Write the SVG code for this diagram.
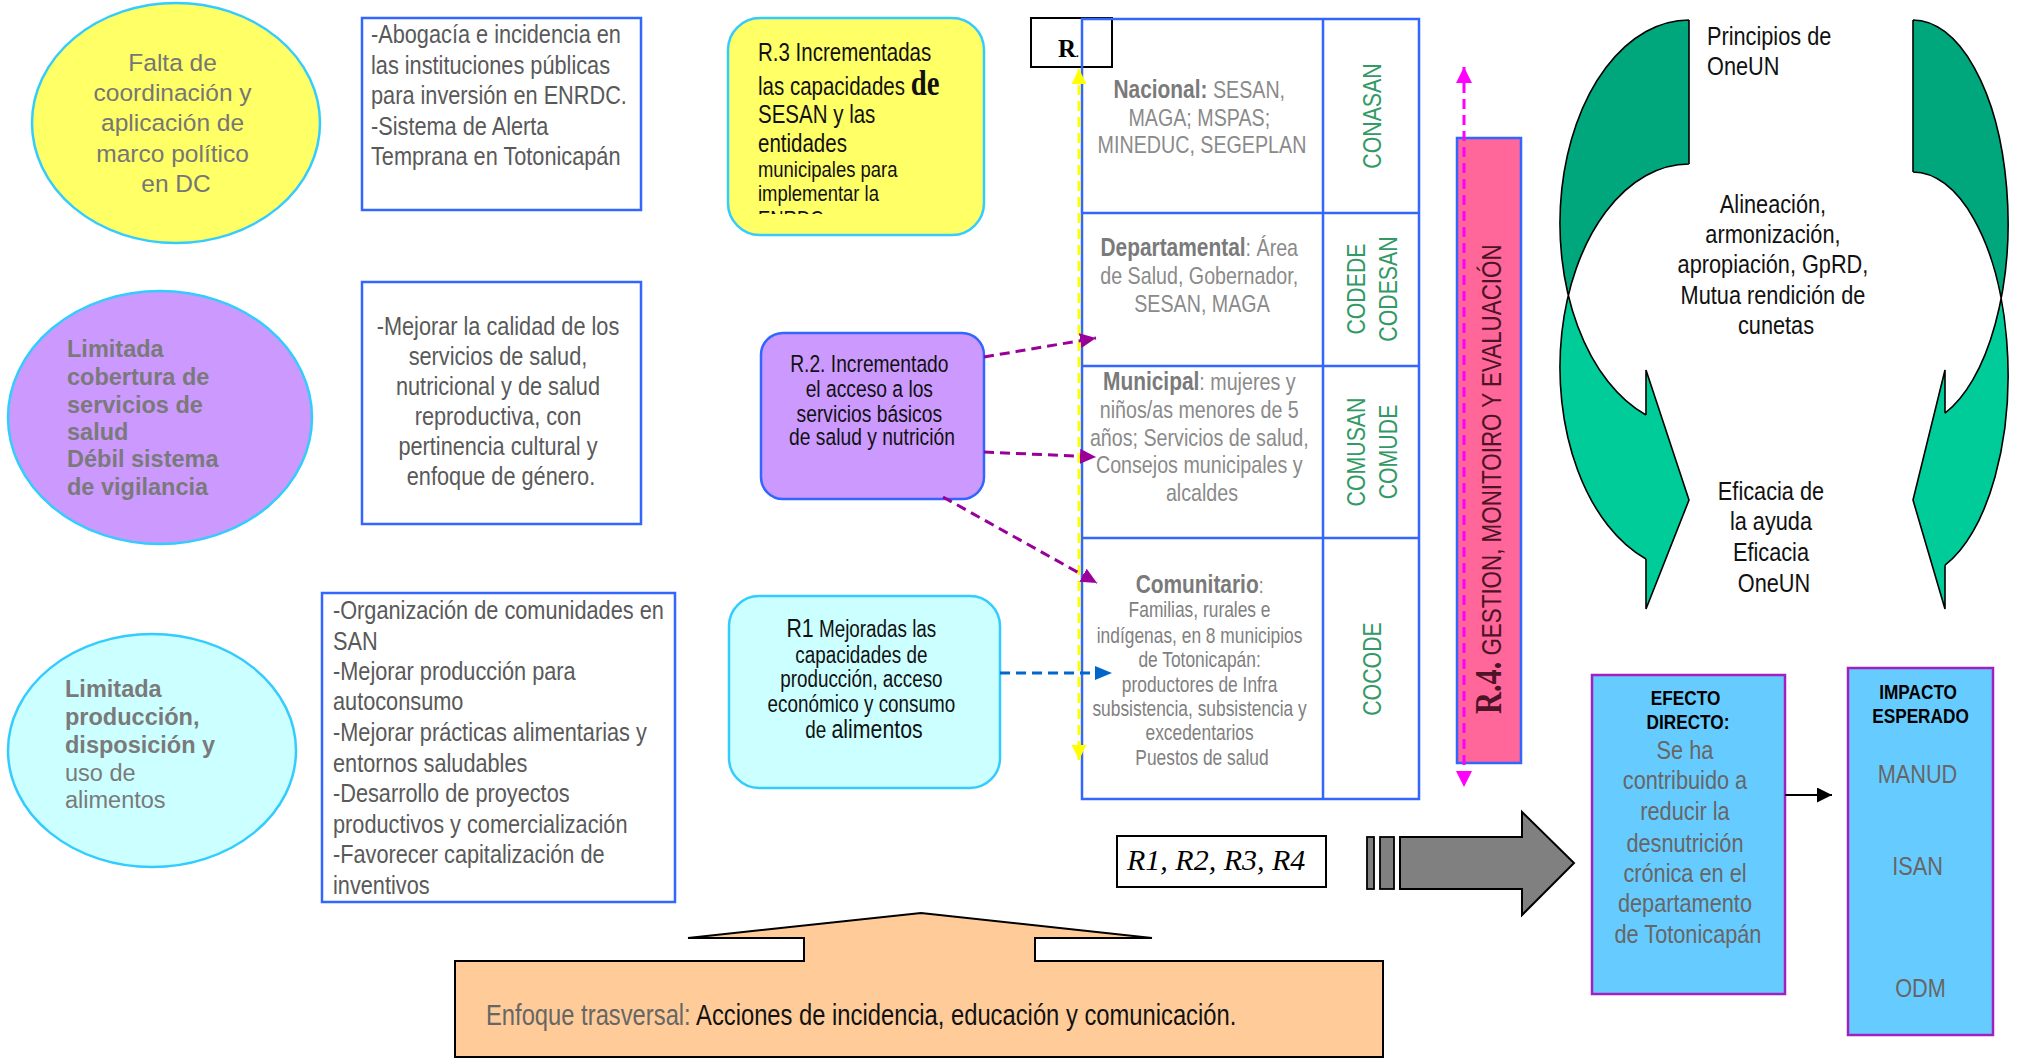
<svg xmlns="http://www.w3.org/2000/svg" width="2022" height="1064" viewBox="0 0 2022 1064">
<defs>
<style>
.n{font-family:"Liberation Sans",Arial,sans-serif}
.s{font-family:"Liberation Sans",Arial,sans-serif}
.sf{font-family:"Liberation Serif","Times New Roman",serif}
.box{fill:#fff;stroke:#3366ff;stroke-width:2.5}
.ell{stroke:#33ccff;stroke-width:2.5}
.tb{fill:none;stroke:#3366ff;stroke-width:2.5}
.bt{font-size:26.5px;fill:#595959}
.lab{font-weight:bold;fill:#7a7a7a}
.reg{fill:#8a8a8a}
.grn{font-size:26px;fill:#339966}
.blk{fill:#111}
.c{text-anchor:middle}
.dash{fill:none;stroke-width:3;stroke-dasharray:10 6}
.gd{fill:#00a67c}
.gl{fill:#00cc99}
.gs{fill:none;stroke:#000;stroke-width:1.6}
</style>
<marker id="mp" markerUnits="userSpaceOnUse" markerWidth="16" markerHeight="15" refX="16" refY="7.5" orient="auto"><path d="M0,0 L16,7.5 L0,15 Z" fill="#990099"/></marker>
<marker id="mb" markerUnits="userSpaceOnUse" markerWidth="17" markerHeight="14" refX="17" refY="7" orient="auto"><path d="M0,0 L17,7 L0,14 Z" fill="#0066cc"/></marker>
<marker id="my" markerUnits="userSpaceOnUse" markerWidth="15" markerHeight="15" refX="15" refY="7.5" orient="auto-start-reverse"><path d="M0,0 L15,7.5 L0,15 Z" fill="#ffff00"/></marker>
<marker id="mm" markerUnits="userSpaceOnUse" markerWidth="16" markerHeight="16" refX="16" refY="8" orient="auto-start-reverse"><path d="M0,0 L16,8 L0,16 Z" fill="#ff00ff"/></marker>
<marker id="mk" markerUnits="userSpaceOnUse" markerWidth="15" markerHeight="15" refX="15" refY="7.5" orient="auto"><path d="M0,0 L15,7.5 L0,15 Z" fill="#000"/></marker>
<clipPath id="r3clip"><rect x="728" y="18" width="256" height="196"/></clipPath>
</defs>
<rect width="2022" height="1064" fill="#fff"/>

<g id="problema-coordinacion">
<ellipse class="ell" cx="176" cy="123" rx="144" ry="120" fill="#ffff66"/>
<text class="s c" font-size="24.5" fill="#767676">
<tspan x="176" y="71">Falta de</tspan>
<tspan x="176" y="101">coordinación y</tspan>
<tspan x="176" y="131">aplicación de</tspan>
<tspan x="176" y="162">marco político</tspan>
<tspan x="176" y="192">en DC</tspan>
</text>
</g>

<g id="problema-cobertura">
<ellipse class="ell" cx="160" cy="417.5" rx="152" ry="126.5" fill="#cc99ff"/>
<text class="s" font-size="23.5" font-weight="bold" fill="#7a7a7a">
<tspan x="67" y="357">Limitada</tspan>
<tspan x="67" y="385">cobertura de</tspan>
<tspan x="67" y="413">servicios de</tspan>
<tspan x="67" y="440">salud</tspan>
<tspan x="67" y="467">Débil sistema</tspan>
<tspan x="67" y="495">de vigilancia</tspan>
</text>
</g>

<g id="problema-produccion">
<ellipse class="ell" cx="152" cy="750.5" rx="144" ry="116.5" fill="#ccffff"/>
<text class="s" font-size="23.5" fill="#7a7a7a">
<tspan x="65" y="697" font-weight="bold">Limitada</tspan>
<tspan x="65" y="725" font-weight="bold">producción,</tspan>
<tspan x="65" y="753" font-weight="bold">disposición y</tspan>
<tspan x="65" y="781">uso de</tspan>
<tspan x="65" y="808">alimentos</tspan>
</text>
</g>

<g id="acciones-1">
<rect class="box" x="362" y="18" width="279" height="192"/>
<text class="n bt" transform="matrix(0.82,0,0,1,66.78,0)">
<tspan x="371" y="43">-Abogacía e incidencia en</tspan>
<tspan x="371" y="74">las instituciones públicas</tspan>
<tspan x="371" y="104">para inversión en ENRDC.</tspan>
<tspan x="371" y="135">-Sistema de Alerta</tspan>
<tspan x="371" y="165">Temprana en Totonicapán</tspan>
</text>
</g>

<g id="acciones-2">
<rect class="box" x="362" y="282" width="279" height="242"/>
<text class="n bt c" transform="matrix(0.82,0,0,1,90.18,0)">
<tspan x="501" y="335">-Mejorar la calidad de los</tspan>
<tspan x="501" y="365">servicios de salud,</tspan>
<tspan x="501" y="395">nutricional y de salud</tspan>
<tspan x="501" y="425">reproductiva, con</tspan>
<tspan x="501" y="455">pertinencia cultural y</tspan>
<tspan x="501" y="485">enfoque de género.</tspan>
</text>
</g>

<g id="acciones-3">
<rect class="box" x="322" y="593" width="353" height="309"/>
<text class="n bt" transform="matrix(0.82,0,0,1,59.94,0)">
<tspan x="333" y="619">-Organización de comunidades en</tspan>
<tspan x="333" y="650">SAN</tspan>
<tspan x="333" y="680">-Mejorar producción para</tspan>
<tspan x="333" y="710">autoconsumo</tspan>
<tspan x="333" y="741">-Mejorar prácticas alimentarias y</tspan>
<tspan x="333" y="772">entornos saludables</tspan>
<tspan x="333" y="802">-Desarrollo de proyectos</tspan>
<tspan x="333" y="833">productivos y comercialización</tspan>
<tspan x="333" y="863">-Favorecer capitalización de</tspan>
<tspan x="333" y="894">inventivos</tspan>
</text>
</g>

<g id="resultado-3">
<rect x="728" y="18" width="256" height="217" rx="32" fill="#ffff66" stroke="#33ccff" stroke-width="2.5"/>
<g clip-path="url(#r3clip)">
<text class="n blk" font-size="25" transform="matrix(0.82,0,0,1,136.44,0)">
<tspan x="758" y="61">R.3 Incrementadas</tspan>
<tspan x="758" y="95">las capacidades <tspan class="sf" font-weight="bold" font-size="35">de</tspan></tspan>
<tspan x="758" y="123">SESAN y las</tspan>
<tspan x="758" y="152">entidades</tspan>
<tspan x="758" y="177" font-size="22.5">municipales para</tspan>
<tspan x="758" y="201" font-size="22.5">implementar la</tspan>
<tspan x="758" y="226" font-size="22.5">ENRDC</tspan>
</text>
</g>
</g>

<g id="resultado-2">
<rect x="761" y="333" width="223" height="166" rx="22" fill="#cc99ff" stroke="#3366ff" stroke-width="2.5"/>
<text class="n blk c" font-size="23.5" transform="matrix(0.82,0,0,1,156.96,0)">
<tspan x="872" y="372">R.2. Incrementado</tspan>
<tspan x="872" y="397">el acceso a los</tspan>
<tspan x="872" y="422">servicios básicos</tspan>
<tspan x="872" y="445">de salud y nutrición</tspan>
</text>
</g>

<g id="resultado-1">
<rect x="729" y="596" width="271" height="192" rx="30" fill="#ccffff" stroke="#33ccff" stroke-width="2.5"/>
<text class="n blk c" font-size="23" transform="matrix(0.82,0,0,1,155.52,0)">
<tspan x="864" y="637"><tspan font-size="26">R1</tspan> Mejoradas las</tspan>
<tspan x="864" y="663">capacidades de</tspan>
<tspan x="864" y="687">producción, acceso</tspan>
<tspan x="864" y="712">económico y consumo</tspan>
<tspan x="864" y="738">de <tspan font-size="26">alimentos</tspan></tspan>
</text>
</g>

<g id="etiqueta-r">
<rect x="1031" y="18" width="81" height="49" fill="#fff" stroke="#000" stroke-width="2"/>
<text class="sf" x="1058" y="57" font-size="25" font-weight="bold" fill="#000">R<tspan font-size="11">.</tspan></text>
</g>

<g id="niveles">
<rect class="tb" x="1082" y="19" width="337" height="780"/>
<path class="tb" d="M1323,19 V799 M1082,213 H1419 M1082,366 H1419 M1082,538 H1419"/>
<g transform="matrix(0.82,0,0,1,216.36,0)">
<text class="n c" font-size="24">
<tspan x="1202" y="98"><tspan class="lab" font-size="25.5">Nacional:</tspan><tspan class="reg"> SESAN,</tspan></tspan>
<tspan class="reg" x="1202" y="126">MAGA; MSPAS;</tspan>
<tspan class="reg" x="1202" y="153">MINEDUC, SEGEPLAN</tspan>
</text>
<text class="n c" font-size="24">
<tspan x="1202" y="256"><tspan class="lab" font-size="25.5">Departamental</tspan><tspan class="reg">: Área</tspan></tspan>
<tspan class="reg" x="1202" y="284">de Salud, Gobernador,</tspan>
<tspan class="reg" x="1202" y="312">SESAN, MAGA</tspan>
</text>
<text class="n c" font-size="24">
<tspan x="1202" y="390"><tspan class="lab" font-size="25.5">Municipal</tspan><tspan class="reg">: mujeres y</tspan></tspan>
<tspan class="reg" x="1202" y="418">niños/as menores de 5</tspan>
<tspan class="reg" x="1202" y="446">años; Servicios de salud,</tspan>
<tspan class="reg" x="1202" y="473">Consejos municipales y</tspan>
<tspan class="reg" x="1202" y="501">alcaldes</tspan>
</text>
<text class="n c" font-size="21.2" fill="#808080">
<tspan x="1202" y="593"><tspan class="lab" font-size="25.5">Comunitario</tspan>:</tspan>
<tspan x="1202" y="617">Familias, rurales e</tspan>
<tspan x="1202" y="643">indígenas, en 8 municipios</tspan>
<tspan x="1202" y="667">de Totonicapán:</tspan>
<tspan x="1202" y="692">productores de Infra</tspan>
<tspan x="1202" y="716">subsistencia, subsistencia y</tspan>
<tspan x="1202" y="740">excedentarios</tspan>
<tspan x="1202" y="765">Puestos de salud</tspan>
</text>
</g>
<text class="n grn c" transform="translate(1381,116) rotate(-90) scale(0.82,1)">CONASAN</text>
<text class="n grn c" transform="translate(1365,289) rotate(-90) scale(0.82,1)">CODEDE</text>
<text class="n grn c" transform="translate(1397,289) rotate(-90) scale(0.82,1)">CODESAN</text>
<text class="n grn c" transform="translate(1365,452) rotate(-90) scale(0.82,1)">COMUSAN</text>
<text class="n grn c" transform="translate(1397,452) rotate(-90) scale(0.82,1)">COMUDE</text>
<text class="n grn c" transform="translate(1381,669) rotate(-90) scale(0.82,1)">COCODE</text>
</g>

<g id="resultado-4">
<rect x="1457" y="138" width="64" height="625" fill="#ff6699" stroke="#3366ff" stroke-width="2.5"/>
<text transform="translate(1501,714) rotate(-90) scale(0.82,1)" fill="#4d1326"><tspan class="sf" font-size="37" font-weight="bold">R.4.</tspan><tspan class="n" font-size="27.3"> GESTION, MONITOIRO Y EVALUACIÓN</tspan></text>
</g>

<g id="principios-oneun">
<path class="gd" d="M1689,20 A129,203.3 0 0 0 1568.4,295.3 A129,203.3 0 0 1 1689,164 Z"/>
<path class="gl" d="M1568.4,295.3 A129,203.3 0 0 0 1646,415 L1646,370 L1689,500 L1646,609 L1646,559 A129,203.3 0 0 1 1568.4,295.3 Z"/>
<path class="gs" d="M1689,20 A129,203.3 0 0 0 1646,415 M1689,164 A129,203.3 0 0 0 1646,559 M1689,20 V164 M1646,415 V370 L1689,500 L1646,609 V559"/>
<path class="gd" d="M1913,20 A95,202.5 0 0 1 2001.1,298.5 A95,202.5 0 0 0 1913,172 Z"/>
<path class="gl" d="M2001.1,298.5 A95,202.5 0 0 1 1945,413.2 L1945,370 L1913,500 L1945,609 L1945,565.2 A95,202.5 0 0 0 2001.1,298.5 Z"/>
<path class="gs" d="M1913,20 A95,202.5 0 0 1 1945,413.2 M1913,172 A95,202.5 0 0 1 1945,565.2 M1913,20 V172 M1945,413.2 V370 L1913,500 L1945,609 V565.2"/>
<text class="n blk" font-size="26.5" transform="matrix(0.82,0,0,1,307.26,0)">
<tspan x="1707" y="45">Principios de</tspan>
<tspan x="1707" y="75">OneUN</tspan>
</text>
<text class="n blk c" font-size="26.5" transform="matrix(0.82,0,0,1,319.68,0)">
<tspan x="1776" y="213">Alineación,</tspan>
<tspan x="1776" y="243">armonización,</tspan>
<tspan x="1776" y="273">apropiación, GpRD,</tspan>
<tspan x="1776" y="304">Mutua rendición de</tspan>
<tspan x="1776" y="334">cunetas</tspan>
</text>
<text class="n blk c" font-size="26.5" transform="matrix(0.82,0,0,1,319.32,0)">
<tspan x="1774" y="500">Eficacia de</tspan>
<tspan x="1774" y="530">la ayuda</tspan>
<tspan x="1774" y="561">Eficacia</tspan>
<tspan x="1774" y="592">OneUN</tspan>
</text>
</g>

<g id="resultados-resumen">
<rect x="1117" y="836" width="209" height="51" fill="#fff" stroke="#000" stroke-width="2"/>
<text class="sf" x="1127" y="870" font-size="30" font-style="italic" fill="#000">R1, R2, R3, R4</text>
</g>

<g id="flecha-avance">
<rect x="1367" y="837" width="7" height="52" fill="#808080" stroke="#000" stroke-width="1.8"/>
<rect x="1380" y="837" width="14" height="52" fill="#808080" stroke="#000" stroke-width="1.8"/>
<path d="M1400,837 H1522 V812 L1574,863 L1522,915 V889 H1400 Z" fill="#808080" stroke="#000" stroke-width="2"/>
</g>

<g id="efecto-directo">
<rect x="1592" y="675" width="193" height="319" fill="#66ccff" stroke="#a020c0" stroke-width="2.5"/>
<g transform="matrix(0.82,0,0,1,303.84,0)">
<text class="n c" font-size="21" font-weight="bold" fill="#000">
<tspan x="1688" y="705">EFECTO</tspan>
<tspan x="1688" y="729">DIRECTO:</tspan>
</text>
<text class="n c" font-size="26.5" fill="#666">
<tspan x="1688" y="759">Se ha</tspan>
<tspan x="1688" y="789">contribuido a</tspan>
<tspan x="1688" y="820">reducir la</tspan>
<tspan x="1688" y="852">desnutrición</tspan>
<tspan x="1688" y="882">crónica en el</tspan>
<tspan x="1688" y="912">departamento</tspan>
<tspan x="1688" y="943">de Totonicapán</tspan>
</text>
</g>
</g>

<g id="impacto-esperado">
<rect x="1848" y="668" width="145" height="367" fill="#66ccff" stroke="#a020c0" stroke-width="2.5"/>
<g transform="matrix(0.82,0,0,1,345.69,0)">
<text class="n c" font-size="21" font-weight="bold" fill="#000">
<tspan x="1920.5" y="699">IMPACTO</tspan>
<tspan x="1920.5" y="723">ESPERADO</tspan>
</text>
<text class="n c" font-size="26.5" fill="#666">
<tspan x="1920.5" y="783">MANUD</tspan>
<tspan x="1920.5" y="875">ISAN</tspan>
<tspan x="1920.5" y="997">ODM</tspan>
</text>
</g>
</g>

<g id="enfoque-trasversal">
<path d="M455,961 H804 V938 H688 L921,913 L1152,938 H1035 V961 H1383 V1057 H455 Z" fill="#ffcc99" stroke="#000" stroke-width="2"/>
<text class="n" x="486" y="1025" font-size="29" transform="matrix(0.82,0,0,1,87.48,0)"><tspan fill="#666">Enfoque trasversal:</tspan><tspan fill="#111"> Acciones de incidencia, educación y comunicación.</tspan></text>
</g>

<g id="conectores">
<line class="dash" x1="1079" y1="69" x2="1079" y2="760" stroke="#ffff00" stroke-width="3.5" stroke-dasharray="12 7" marker-start="url(#my)" marker-end="url(#my)"/>
<line class="dash" x1="1464" y1="67" x2="1464" y2="787" stroke="#ff00ff" marker-start="url(#mm)" marker-end="url(#mm)"/>
<line class="dash" x1="984" y1="357" x2="1096" y2="338" stroke="#990099" marker-end="url(#mp)"/>
<line class="dash" x1="984" y1="452" x2="1096" y2="457" stroke="#990099" marker-end="url(#mp)"/>
<line class="dash" x1="943" y1="497" x2="1097" y2="583" stroke="#990099" marker-end="url(#mp)"/>
<line class="dash" x1="1000" y1="673" x2="1112" y2="673" stroke="#0066cc" marker-end="url(#mb)"/>
<line x1="1785" y1="795" x2="1832" y2="795" stroke="#000" stroke-width="2" marker-end="url(#mk)"/>
</g>
</svg>
